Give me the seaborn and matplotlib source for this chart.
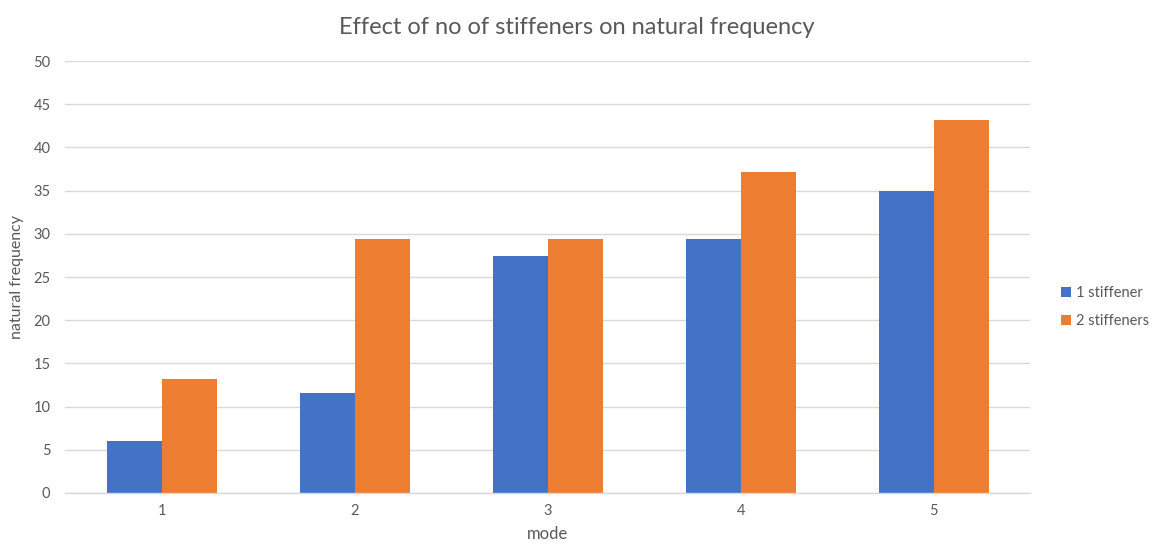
import matplotlib
matplotlib.use("Agg")
import matplotlib.pyplot as plt
from matplotlib.patches import Patch
import pandas as pd
import seaborn as sns

modes = ["1", "2", "3", "4", "5"]
series_names = ["1 stiffener", "2 stiffeners"]
one_stiffener = [6.0, 11.6, 27.4, 29.4, 35.0]
two_stiffeners = [13.2, 29.4, 29.4, 37.1, 43.2]
y_ticks = [0, 5, 10, 15, 20, 25, 30, 35, 40, 45, 50]

colors = ["#4472C4", "#ED7D31"]
text_color = "#595959"
grid_color = "#D9D9D9"

df = pd.DataFrame({
    "mode": modes * 2,
    "series": [series_names[0]] * len(modes) + [series_names[1]] * len(modes),
    "value": one_stiffener + two_stiffeners,
})

sns.set_theme(style="white")
plt.rcParams["font.family"] = ["Lato", "DejaVu Sans"]

fig = plt.figure(figsize=(11.53, 5.44), dpi=100)
ax = fig.add_axes([0.0564, 0.0938, 0.837, 0.794])

sns.barplot(data=df, x="mode", y="value", hue="series", order=modes,
            hue_order=series_names, palette=colors, width=0.57, gap=0,
            saturation=1, linewidth=0, ax=ax, legend=False)

ax.set_ylim(0, 50)
ax.set_xlim(-0.5, len(modes) - 0.5)
ax.set_yticks(y_ticks)
ax.set_yticklabels([str(t) for t in y_ticks])
ax.yaxis.grid(True, color=grid_color, linewidth=1)
ax.set_axisbelow(True)
for side in ["top", "right", "left"]:
    ax.spines[side].set_visible(False)
ax.spines["bottom"].set_color(grid_color)
ax.spines["bottom"].set_linewidth(1)
ax.tick_params(axis="both", length=0, colors=text_color, labelsize=10.5)
ax.tick_params(axis="y", pad=10.5)
ax.tick_params(axis="x", pad=8)

ax.set_xlabel("mode", color=text_color, fontsize=12, labelpad=5.5)
ax.set_ylabel("natural frequency", color=text_color, fontsize=11.5, labelpad=7)
fig.suptitle("Effect of no of stiffeners on natural frequency",
             color=text_color, fontsize=17, x=0.5, y=0.968)

handles = [Patch(facecolor=c, edgecolor="none") for c in colors]
ax.legend(handles, series_names, loc="center left", bbox_to_anchor=(1.018, 0.43),
          frameon=False, handlelength=0.7, handleheight=0.7, handletextpad=0.35,
          labelspacing=0.95, fontsize=10.5, labelcolor=text_color)

fig.savefig("out.png", dpi=100, facecolor="white")
